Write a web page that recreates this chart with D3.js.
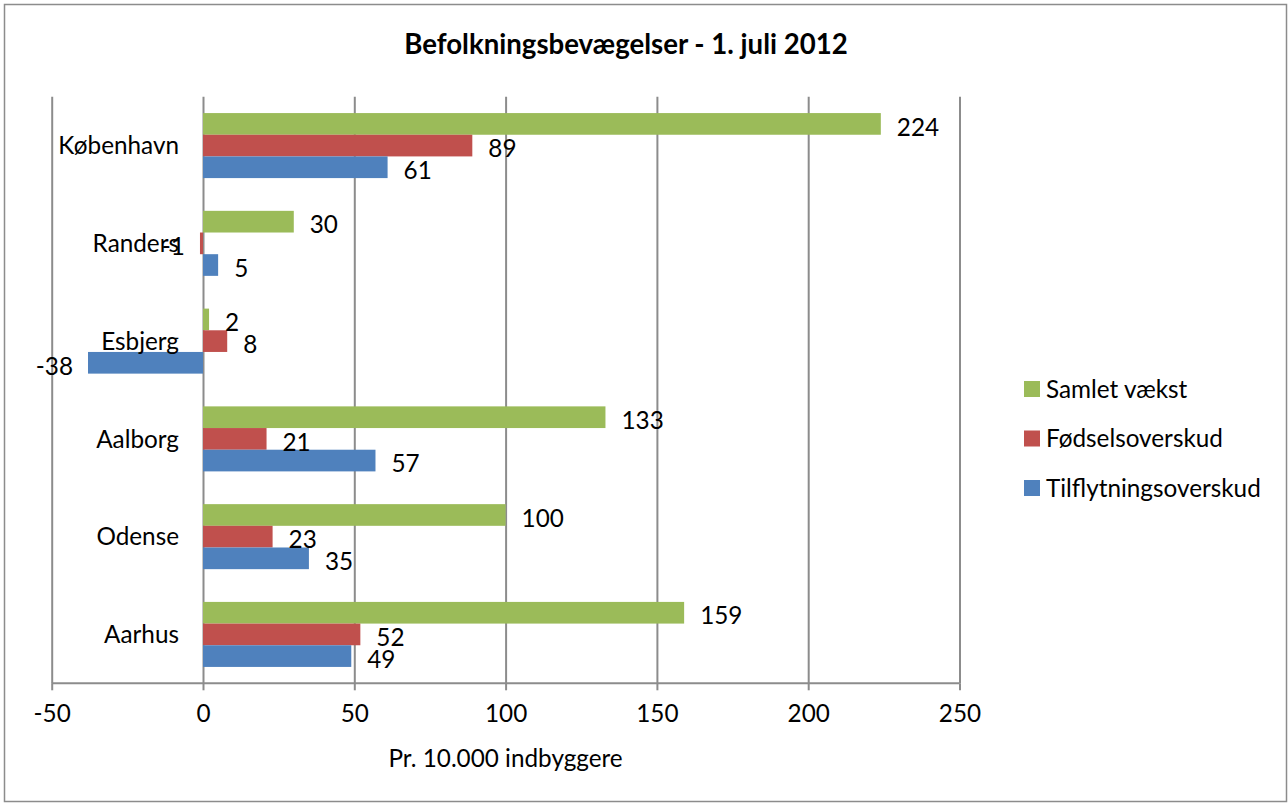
<!DOCTYPE html>
<html>
<head>
<meta charset="utf-8">
<script src="https://cdn.jsdelivr.net/npm/d3@7"></script>
<style>
  body { margin: 0; background: #fff; }
  svg text { font-family: Lato, "Open Sans", sans-serif; fill: #000; }
</style>
</head>
<body>
<div id="chart"></div>
<script>
// data
var cities = ["København", "Randers", "Esbjerg", "Aalborg", "Odense", "Aarhus"];
var seriesNames = ["Samlet vækst", "Fødselsoverskud", "Tilflytningsoverskud"];
var samletVaekst = [224, 30, 2, 133, 100, 159];
var foedselsoverskud = [89, -1, 8, 21, 23, 52];
var tilflytningsoverskud = [61, 5, -38, 57, 35, 49];
var xTicks = [-50, 0, 50, 100, 150, 200, 250];
var colors = ["#9BBB59", "#C0504D", "#4F81BD"];

var W = 1288, H = 803;
var plot = {left: 51.7, right: 959.5, top: 96.7, bottom: 683.3};
var fontSize = 24.3;

var values = [samletVaekst, foedselsoverskud, tilflytningsoverskud];
var rows = [];
cities.forEach(function(c, i) {
  seriesNames.forEach(function(s, j) {
    rows.push({city: c, series: s, idx: j, value: values[j][i]});
  });
});

var svg = d3.select("#chart").append("svg")
    .attr("width", W)
    .attr("height", H);

svg.append("rect")
    .attr("x", 4.5).attr("y", 4.5)
    .attr("width", W - 6).attr("height", H - 6)
    .attr("fill", "#fff")
    .attr("stroke", "#8c8c8c")
    .attr("stroke-width", 1.5);

var x = d3.scaleLinear().domain([-50, 250]).range([plot.left, plot.right]);
var y = d3.scaleBand().domain(cities).range([plot.top, plot.bottom])
    .paddingInner(0.335).paddingOuter(0.1675);
var ySub = d3.scaleBand().domain(seriesNames).range([0, y.bandwidth()]);

// gridlines
var grid = svg.append("g")
    .attr("transform", "translate(0," + plot.bottom + ")")
    .call(d3.axisBottom(x).tickValues(xTicks).tickSize(-(plot.bottom - plot.top)).tickFormat(""));
grid.select(".domain").remove();
grid.selectAll("line").attr("stroke", "#8c8c8c").attr("stroke-width", 2);

// x axis, plain hyphen for negatives like the original
var xAxis = svg.append("g")
    .attr("transform", "translate(0," + plot.bottom + ")")
    .call(d3.axisBottom(x).tickValues(xTicks).tickSize(7).tickPadding(14).tickFormat(function(d) { return String(d); }));
xAxis.select(".domain").attr("stroke", "#8c8c8c").attr("stroke-width", 2).attr("d", "M" + plot.left + ",0H" + plot.right);
xAxis.selectAll("line").attr("stroke", "#8c8c8c").attr("stroke-width", 2);
xAxis.selectAll("text")
    .style("font-size", fontSize + "px")
    .attr("fill", "#000");

// bars
svg.append("g").selectAll("rect")
    .data(rows)
    .enter().append("rect")
    .attr("x", function(d) { return x(Math.min(0, d.value)); })
    .attr("width", function(d) { return Math.abs(x(d.value) - x(0)); })
    .attr("y", function(d) { return y(d.city) + ySub(d.series); })
    .attr("height", ySub.bandwidth())
    .attr("fill", function(d) { return colors[d.idx]; });

// category labels
svg.append("g").selectAll("text")
    .data(cities)
    .enter().append("text")
    .attr("x", x(0) - 24)
    .attr("y", function(d) { return y(d) + y.bandwidth() / 2; })
    .attr("dy", "0.36em")
    .attr("text-anchor", "end")
    .style("font-size", fontSize + "px")
    .text(function(d) { return d; });

// data labels
svg.append("g").selectAll("text")
    .data(rows)
    .enter().append("text")
    .attr("x", function(d) { return d.value < 0 ? x(d.value) - 15 : x(d.value) + 16; })
    .attr("y", function(d) { return y(d.city) + ySub(d.series) + ySub.bandwidth() / 2 + 3; })
    .attr("dy", "0.36em")
    .attr("text-anchor", function(d) { return d.value < 0 ? "end" : "start"; })
    .style("font-size", fontSize + "px")
    .text(function(d) { return d.value; });

// title
svg.append("text")
    .attr("x", 626)
    .attr("y", 54)
    .attr("text-anchor", "middle")
    .style("font-size", "27.6px")
    .style("font-weight", "bold")
    .text("Befolkningsbevægelser - 1. juli 2012");

// axis title
svg.append("text")
    .attr("x", (plot.left + plot.right) / 2)
    .attr("y", 767)
    .attr("text-anchor", "middle")
    .style("font-size", fontSize + "px")
    .text("Pr. 10.000 indbyggere");

// legend
var legend = svg.append("g").selectAll("g")
    .data(seriesNames)
    .enter().append("g")
    .attr("transform", function(d, i) { return "translate(1024," + (389 + i * 49.5) + ")"; });
legend.append("rect")
    .attr("y", -8).attr("width", 16).attr("height", 16)
    .attr("fill", function(d, i) { return colors[i]; });
legend.append("text")
    .attr("x", 22)
    .attr("dy", "0.36em")
    .style("font-size", fontSize + "px")
    .text(function(d) { return d; });
</script>
</body>
</html>
